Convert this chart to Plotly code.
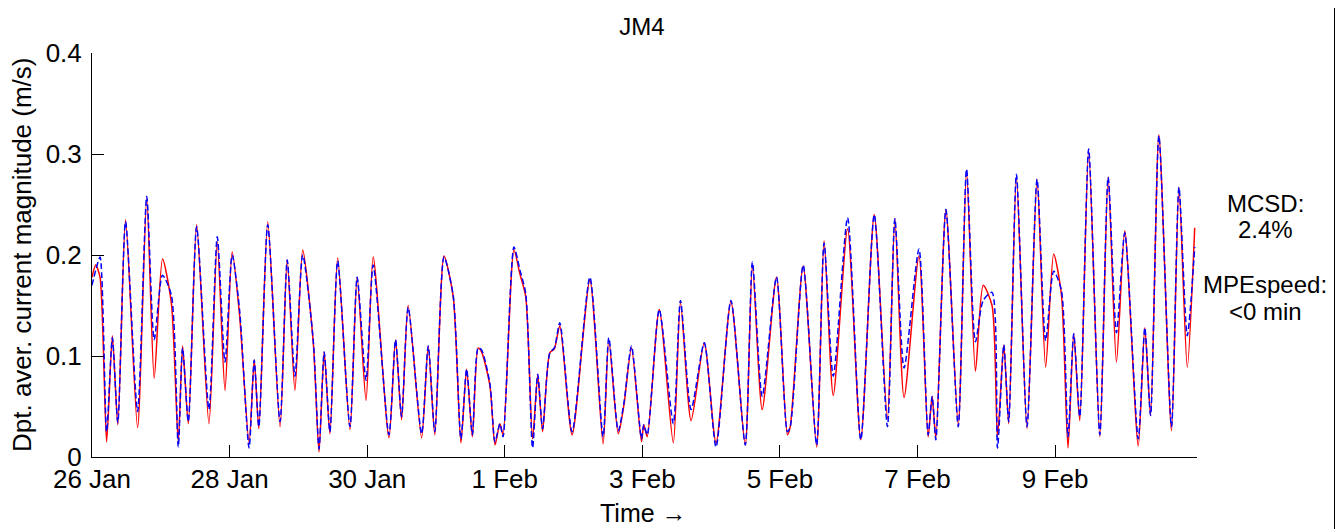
import pandas as pd
import plotly.graph_objects as go

# hours after 26 Jan 00:00
hours = [0, 1.3, 2.8, 5.1, 7.1, 9.0, 11.7, 15.9, 19.1, 21.7, 24.6, 27.7, 30.1, 31.6, 33.6,
         36.5, 40.8, 43.7, 46.4, 48.9, 51.5, 54.8, 56.6, 58.2, 61.3, 65.6, 68.1, 70.8, 73.5,
         77.2, 79.2, 81.0, 83.0, 85.7, 90.0, 92.5, 95.6, 98.1, 103.6, 105.9, 108.0, 110.3,
         115.0, 117.3, 119.6, 122.8, 126.0, 128.7, 130.7, 132.7, 134.7, 135.9, 138.8, 140.6,
         142.3, 143.4, 147.2, 149.3, 151.3, 153.7, 155.5, 157.2, 159.7, 161.3, 163.2, 167.5,
         173.7, 178.3, 180.3, 183.6, 185.6, 188.2, 191.7, 192.5, 193.7, 197.9, 202.8, 205.3,
         209.0, 213.6, 217.7, 222.9, 227.9, 230.4, 233.8, 238.8, 242.6, 243.6, 248.1, 252.8,
         255.4, 258.6, 263.6, 268.2, 272.9, 277.5, 280.1, 283.3, 288.5, 291.7, 293.1, 294.4,
         297.9, 302.2, 305.1, 308.2, 310.9, 314.0, 315.9, 318.1, 319.8, 322.5, 326.2, 329.7,
         332.7, 335.5, 338.2, 340.5, 342.5, 344.6, 347.7, 351.6, 354.5, 357.4, 360.3, 365.0,
         367.3, 369.3, 372.2, 376.6, 379.2, 382.1, 384.7]

observed = [0.178, 0.190, 0.178, 0.015, 0.120, 0.032, 0.235, 0.029, 0.256, 0.078, 0.196, 0.152,
            0.015, 0.110, 0.033, 0.230, 0.033, 0.213, 0.066, 0.203, 0.140, 0.014, 0.096, 0.028,
            0.233, 0.030, 0.195, 0.066, 0.205, 0.113, 0.005, 0.104, 0.023, 0.197, 0.027, 0.178,
            0.056, 0.198, 0.019, 0.116, 0.037, 0.150, 0.019, 0.110, 0.022, 0.199, 0.159, 0.014,
            0.087, 0.020, 0.108, 0.104, 0.071, 0.012, 0.033, 0.022, 0.205, 0.181, 0.159, 0.018,
            0.081, 0.025, 0.103, 0.107, 0.130, 0.022, 0.175, 0.013, 0.116, 0.023, 0.052, 0.108,
            0.015, 0.032, 0.020, 0.146, 0.014, 0.153, 0.036, 0.113, 0.014, 0.154, 0.012, 0.190,
            0.047, 0.178, 0.022, 0.030, 0.189, 0.010, 0.214, 0.061, 0.226, 0.017, 0.240, 0.038,
            0.236, 0.059, 0.199, 0.020, 0.060, 0.019, 0.245, 0.032, 0.284, 0.085, 0.170, 0.150,
            0.020, 0.111, 0.033, 0.278, 0.028, 0.275, 0.089, 0.201, 0.161, 0.009, 0.122, 0.036,
            0.304, 0.020, 0.277, 0.094, 0.224, 0.011, 0.128, 0.041, 0.319, 0.026, 0.267, 0.089,
            0.227]

modelled = [0.170, 0.185, 0.198, 0.025, 0.118, 0.034, 0.233, 0.045, 0.258, 0.116, 0.180, 0.160,
            0.010, 0.108, 0.035, 0.228, 0.047, 0.218, 0.094, 0.200, 0.145, 0.009, 0.096, 0.030,
            0.230, 0.035, 0.195, 0.080, 0.200, 0.115, 0.008, 0.104, 0.025, 0.194, 0.030, 0.178,
            0.076, 0.190, 0.022, 0.116, 0.040, 0.148, 0.023, 0.110, 0.025, 0.198, 0.160, 0.018,
            0.087, 0.022, 0.108, 0.106, 0.073, 0.015, 0.033, 0.020, 0.208, 0.185, 0.162, 0.009,
            0.082, 0.028, 0.103, 0.108, 0.133, 0.025, 0.178, 0.020, 0.118, 0.026, 0.054, 0.110,
            0.018, 0.032, 0.022, 0.146, 0.033, 0.155, 0.047, 0.113, 0.010, 0.155, 0.012, 0.193,
            0.060, 0.178, 0.025, 0.030, 0.190, 0.012, 0.212, 0.080, 0.237, 0.017, 0.240, 0.030,
            0.236, 0.088, 0.206, 0.022, 0.060, 0.017, 0.245, 0.030, 0.285, 0.114, 0.155, 0.163,
            0.009, 0.111, 0.035, 0.280, 0.030, 0.275, 0.115, 0.184, 0.165, 0.020, 0.122, 0.040,
            0.305, 0.022, 0.277, 0.123, 0.222, 0.018, 0.128, 0.041, 0.318, 0.030, 0.267, 0.120,
            0.208]

tick_days = [0, 2, 4, 6, 8, 10, 12, 14]          # days after 26 Jan
tick_labels = ["26 Jan", "28 Jan", "30 Jan", "1 Feb", "3 Feb", "5 Feb", "7 Feb", "9 Feb"]
y_ticks = [0, 0.1, 0.2, 0.3, 0.4]
y_tick_labels = ["0", "0.1", "0.2", "0.3", "0.4"]
stats_lines = ["MCSD:", "2.4%", "MPEspeed:", "<0 min"]

start = pd.Timestamp("2014-01-26 00:00")
times = [start + pd.Timedelta(hours=h) for h in hours]
x_end = start + pd.Timedelta(hours=385.5)
tick_times = [start + pd.Timedelta(days=d) for d in tick_days]

FONT = "Liberation Sans, Arial, sans-serif"

# page body has an 8px margin; figure is sized/placed to compensate
W, H = 1335, 521
PL, PT, PR, PB = 84, 45, 1189, 449     # plot area in figure pixels
PW, PH = PR - PL, PB - PT


def px(xr):   # reference-page x -> paper x
    return (xr - 8 - PL) / PW


def py(yr):   # reference-page y -> paper y
    return (PB - (yr - 8)) / PH


fig = go.Figure()
fig.add_trace(go.Scatter(x=times, y=observed, mode="lines",
                         line=dict(color="#ff0000", width=1.5, shape="spline", smoothing=0.7),
                         showlegend=False))
fig.add_trace(go.Scatter(x=times, y=modelled, mode="lines",
                         line=dict(color="#0000ff", width=1.5, dash="6px,3px",
                                   shape="spline", smoothing=0.7),
                         showlegend=False))

fig.update_layout(
    width=W, height=H,
    margin=dict(l=PL, r=W - PR, t=PT, b=H - PB),
    paper_bgcolor="white", plot_bgcolor="white",
    font=dict(family=FONT, size=26, color="black"),
    title=dict(text="JM4", x=(642 - 8) / W, xanchor="center",
               y=1 - (27 - 8) / H, yanchor="middle", font=dict(size=24)),
    xaxis=dict(range=[start, x_end], showgrid=False, zeroline=False, automargin=False,
               showline=True, linecolor="black", linewidth=1,
               ticks="inside", ticklen=12, tickcolor="black",
               tickvals=tick_times, ticktext=tick_labels, ticklabelstandoff=-1),
    yaxis=dict(range=[0, 0.4], showgrid=False, zeroline=False, automargin=False,
               showline=True, linecolor="black", linewidth=1,
               ticks="inside", ticklen=12, tickcolor="black",
               tickvals=y_ticks, ticktext=y_tick_labels, ticklabelstandoff=4),
)

# axis titles
fig.add_annotation(text="Dpt. aver. current magnitude (m/s)", textangle=-90,
                   xref="paper", yref="paper", x=px(22), y=py(255),
                   xanchor="center", yanchor="middle", showarrow=False,
                   font=dict(size=26))
fig.add_annotation(text="Time \u2192", xref="paper", yref="paper", x=px(643), y=py(513),
                   xanchor="center", yanchor="middle", showarrow=False,
                   font=dict(size=25))

# statistics text on the right
for txt, yr in zip(stats_lines, [203, 230, 284, 311]):
    fig.add_annotation(text=txt, xref="paper", yref="paper", x=px(1265), y=py(yr),
                       xanchor="center", yanchor="middle", showarrow=False,
                       font=dict(size=24))

# frame edge at the right of the picture
fig.add_shape(type="line", xref="paper", yref="paper",
              x0=px(1336), x1=px(1336), y0=py(535), y1=py(-5),
              line=dict(color="black", width=4), layer="above")

fig.write_html("out.html")
